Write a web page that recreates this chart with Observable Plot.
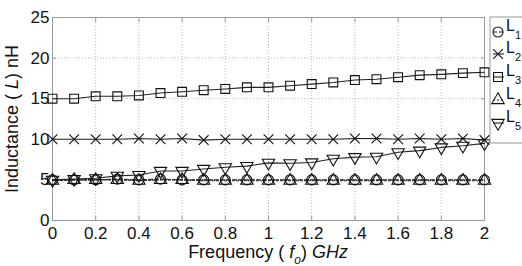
<!DOCTYPE html>
<html><head><meta charset="utf-8">
<script src="https://cdn.jsdelivr.net/npm/d3@7"></script>
<script src="https://cdn.jsdelivr.net/npm/@observablehq/plot@0.6"></script>
<style>
body{margin:0;background:#fff;}
#chart{position:relative;width:522px;height:266px;overflow:hidden;font-family:"Liberation Sans",Arial,sans-serif;}
</style>
</head><body><div id="chart"></div>
<script>
const freq = [0,0.1,0.2,0.3,0.4,0.5,0.6,0.7,0.8,0.9,1.0,1.1,1.2,1.3,1.4,1.5,1.6,1.7,1.8,1.9,2.0];
const L1 = [5.0,5.0,5.0,5.1,5.0,5.1,5.0,5.0,5.0,5.0,5.0,5.0,5.0,5.0,5.0,5.0,5.0,5.0,5.0,5.0,5.0];
const L2 = [10.0,10.0,10.0,10.0,10.1,10.0,10.1,9.9,10.0,10.0,10.0,10.0,10.0,10.0,10.1,10.1,10.0,10.1,10.0,10.1,9.9];
const L3 = [15.0,15.0,15.3,15.3,15.4,15.7,15.85,16.05,16.2,16.4,16.4,16.6,16.8,17.0,17.3,17.4,17.65,17.9,18.0,18.15,18.25];
const L4 = [4.9,5.0,5.0,5.0,4.9,5.0,5.0,4.9,4.9,4.9,4.9,4.9,4.9,4.9,4.9,4.9,4.9,4.9,4.9,4.9,4.9];
const L5 = [5.0,5.1,5.2,5.5,5.6,6.1,6.1,6.35,6.55,6.7,7.1,7.05,7.15,7.6,7.8,7.85,8.4,8.6,9.0,9.2,9.5];
const seriesNames = ["L1","L2","L3","L4","L5"];
const seriesValues = {L1, L2, L3, L4, L5};
const xTicks = [0,0.2,0.4,0.6,0.8,1,1.2,1.4,1.6,1.8,2];
const xTickLabels = ["0","0.2","0.4","0.6","0.8","1","1.2","1.4","1.6","1.8","2"];
const yTicks = [0,5,10,15,20,25];
const yTickLabels = ["0","5","10","15","20","25"];

const style = {
  L1: {symbol: "circle", rotate: 0, r: 5, dash: "4,2"},
  L2: {symbol: "times", rotate: 0, r: 4.5, dash: null},
  L3: {symbol: "square", rotate: 0, r: 5, dash: null},
  L4: {symbol: "triangle", rotate: 0, r: 4.6, dash: "2,2"},
  L5: {symbol: "triangle", rotate: 180, r: 4.6, dash: null}
};

const rows = seriesNames.flatMap(s => freq.map((f, i) => ({series: s, f, v: seriesValues[s][i]})));

const marks = [
  Plot.gridX(xTicks, {stroke: "#bbb", strokeOpacity: 1, strokeDasharray: "1,2"}),
  Plot.gridY(yTicks, {stroke: "#bbb", strokeOpacity: 1, strokeDasharray: "1,2"}),
  Plot.frame({stroke: "#999"}),
  Plot.axisX(xTicks, {tickSize: 0, tickPadding: 6, tickFormat: (d, i) => xTickLabels[i], fontSize: 17, fill: "#111", label: null}),
  Plot.axisY(yTicks, {tickSize: 0, tickPadding: 3, tickFormat: (d, i) => yTickLabels[i], fontSize: 17, fill: "#111", label: null}),
  Plot.axisX(xTicks, {anchor: "bottom", tickSize: -4, stroke: "#999", text: null, label: null}),
  Plot.axisX(xTicks, {anchor: "top", tickSize: -4, stroke: "#999", text: null, label: null}),
  Plot.axisY(yTicks, {anchor: "left", tickSize: -4, stroke: "#999", text: null, label: null}),
  Plot.axisY(yTicks, {anchor: "right", tickSize: -4, stroke: "#999", text: null, label: null})
];
for (const s of seriesNames) {
  const d = rows.filter(r => r.series === s);
  marks.push(Plot.line(d, {x: "f", y: "v", stroke: "#222", strokeWidth: 1.1, strokeDasharray: style[s].dash}));
}
for (const s of seriesNames) {
  const d = rows.filter(r => r.series === s);
  marks.push(Plot.dot(d, {x: "f", y: "v", symbol: () => style[s].symbol, r: style[s].r, rotate: style[s].rotate, stroke: "#111", strokeWidth: 1.1, fill: "none"}));
}

const plot = Plot.plot({
  width: 522, height: 266,
  marginLeft: 52, marginRight: 38, marginTop: 17, marginBottom: 46,
  style: {fontFamily: '"Liberation Sans", Arial, sans-serif', background: "#fff"},
  x: {domain: [0, 2]},
  y: {domain: [0, 25]},
  symbol: {type: "identity"},
  marks
});
document.getElementById("chart").appendChild(plot);

const svg = d3.select(plot);
// axis labels
svg.append("text")
  .attr("transform", "translate(18,119) rotate(-90)")
  .attr("text-anchor", "middle").attr("font-size", 18).attr("fill", "#111")
  .html('Inductance ( <tspan font-style="italic">L</tspan>) nH');
svg.append("text")
  .attr("x", 268).attr("y", 258)
  .attr("text-anchor", "middle").attr("font-size", 18).attr("fill", "#111")
  .html('Frequency ( <tspan font-style="italic">f</tspan><tspan font-style="italic" font-size="12" dy="6">o</tspan><tspan dy="-6">) </tspan><tspan font-style="italic">GHz</tspan>');

// legend
const lg = svg.append("g");
lg.append("rect").attr("x", 490).attr("y", 17).attr("width", 45).attr("height", 126)
  .attr("fill", "#fff").attr("stroke", "#999");
const legendY = [32, 54, 77, 100, 123];
const symMap = {circle: d3.symbolCircle, times: d3.symbolTimes, square: d3.symbolSquare, triangle: d3.symbolTriangle};
seriesNames.forEach((s, i) => {
  const y = legendY[i];
  const st = style[s];
  const g = lg.append("g");
  g.append("line").attr("x1", 493).attr("x2", 504).attr("y1", y).attr("y2", y)
    .attr("stroke", "#222").attr("stroke-width", 1.1).attr("stroke-dasharray", st.dash);
  g.append("path")
    .attr("d", d3.symbol(symMap[st.symbol], Math.PI * st.r * st.r)())
    .attr("transform", `translate(498,${y}) rotate(${st.rotate})`)
    .attr("fill", "none").attr("stroke", "#111").attr("stroke-width", 1.1);
  g.append("text").attr("x", 506).attr("y", y - 1).attr("text-anchor", "start")
    .attr("font-size", 16).attr("fill", "#111")
    .html(`L<tspan font-size="11" dy="8">${i + 1}</tspan>`);
});
</script>
</body></html>
